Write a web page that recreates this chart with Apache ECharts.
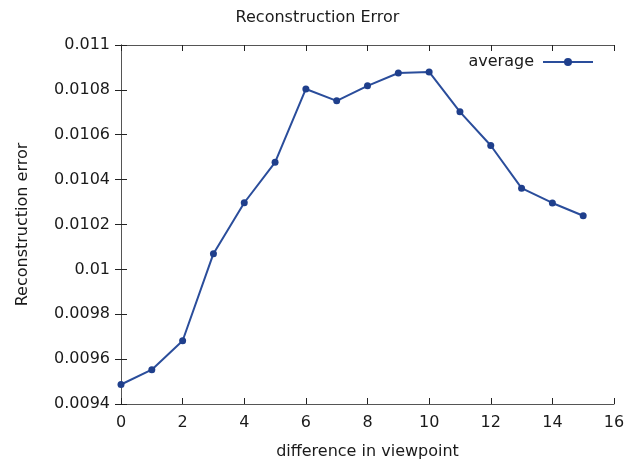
<!DOCTYPE html>
<html>
<head>
<meta charset="utf-8">
<script src="https://cdn.jsdelivr.net/npm/echarts@6/dist/echarts.min.js"></script>
<style>html,body{margin:0;padding:0;background:#fff;}#c{width:635px;height:463px;}</style>
</head>
<body>
<div id="c"></div>
<script>
const xValues = [0, 1, 2, 3, 4, 5, 6, 7, 8, 9, 10, 11, 12, 13, 14, 15];
const averageValues = [0.009487, 0.009553, 0.009682, 0.01007, 0.010297, 0.010477, 0.010804, 0.010751, 0.010818, 0.010875, 0.01088, 0.010702, 0.010552, 0.010362, 0.010296, 0.010239];
const seriesName = 'average';
const titleText = 'Reconstruction Error';
const xName = 'difference in viewpoint';
const yName = 'Reconstruction error';

const font = 'DejaVu Sans';
const textColor = '#1a1a1a';
const fs = 16;
const fmt = v => String(parseFloat(Number(v).toPrecision(6)));

const axisCommon = {
  axisLine: {show: true, lineStyle: {color: '#555', width: 1}},
  axisTick: {show: true, inside: true, length: 6, lineStyle: {color: '#222'}},
  splitLine: {show: false}
};

const chart = echarts.init(document.getElementById('c'), null, {renderer: 'canvas'});
chart.setOption({
  animation: false,
  backgroundColor: '#fff',
  title: {
    text: titleText, left: 'center', top: 5,
    textStyle: {fontFamily: font, fontSize: fs, fontWeight: 'normal', color: textColor}
  },
  legend: {
    right: 36, top: 49, align: 'right',
    itemWidth: 50, itemHeight: 10,
    textStyle: {fontFamily: font, fontSize: fs, color: textColor, padding: [0, 4, 0, 0]},
    data: [seriesName]
  },
  grid: {left: 121, right: 21, top: 45, bottom: 59, containLabel: false, outerBoundsMode: 'none'},
  xAxis: [
    Object.assign({
      type: 'value', min: 0, max: 16, interval: 2, position: 'bottom',
      name: xName, nameLocation: 'middle', nameGap: 40,
      nameTextStyle: {fontFamily: font, fontSize: fs, color: textColor},
      axisLabel: {fontFamily: font, fontSize: fs, color: textColor, margin: 11}
    }, axisCommon),
    Object.assign({
      type: 'value', min: 0, max: 16, interval: 2, position: 'top',
      axisLabel: {show: false}
    }, axisCommon)
  ],
  yAxis: [
    Object.assign({
      type: 'value', min: 0.0094, max: 0.011, interval: 0.0002, position: 'left',
      name: yName, nameLocation: 'middle', nameGap: 90,
      nameTextStyle: {fontFamily: font, fontSize: fs, color: textColor},
      axisLabel: {fontFamily: font, fontSize: fs, color: textColor, margin: 11, formatter: fmt}
    }, axisCommon),
    Object.assign({
      type: 'value', min: 0.0094, max: 0.011, interval: 0.0002, position: 'right',
      axisLabel: {show: false}
    }, axisCommon)
  ],
  series: [{
    name: seriesName,
    type: 'line',
    xAxisIndex: 0, yAxisIndex: 0,
    data: xValues.map((x, i) => [x, averageValues[i]]),
    symbol: 'circle', symbolSize: 7,
    lineStyle: {color: '#2a4d9b', width: 2},
    itemStyle: {color: '#1f3f8c'}
  }]
});
</script>
</body>
</html>
